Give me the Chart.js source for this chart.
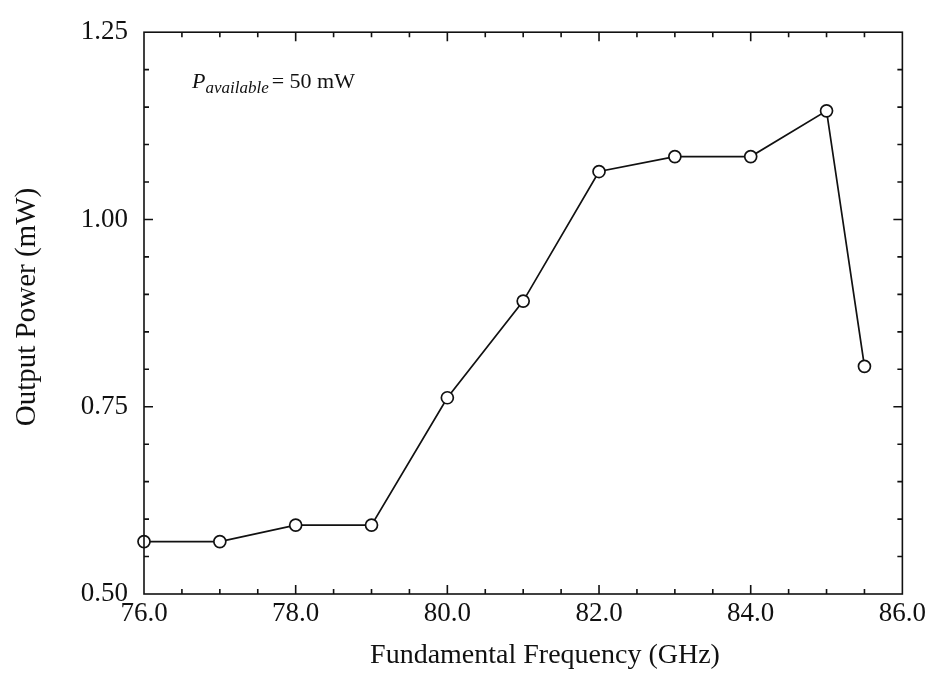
<!DOCTYPE html>
<html>
<head>
    <title>Output Power vs Fundamental Frequency</title>
    <style>
        body {
            margin: 0;
            background-color: #fff;
        }
    </style>
    <script src="https://cdn.jsdelivr.net/npm/chart.js"></script>
</head>
<body>
    <canvas id="powerChart" width="930" height="679"></canvas>

    <script>
        // data
        var frequency = [76, 77, 78, 79, 80, 81, 82, 83, 84, 85, 85.5];
        var outputPower = [0.570, 0.570, 0.592, 0.592, 0.762, 0.891, 1.064, 1.084, 1.084, 1.145, 0.804];

        var xTickValues = [76, 78, 80, 82, 84, 86];
        var xTickLabels = ['76.0', '78.0', '80.0', '82.0', '84.0', '86.0'];
        var yTickValues = [0.5, 0.75, 1.0, 1.25];
        var yTickLabels = ['0.50', '0.75', '1.00', '1.25'];

        var serif = '"Liberation Serif", "Times New Roman", serif';

        // frame, inward ticks on all four sides, axis titles and the note
        var framePlugin = {
            id: 'frame',
            afterDraw: function (chart) {
                var ctx = chart.ctx;
                var a = chart.chartArea;
                var xs = chart.scales.x;
                var ys = chart.scales.y;
                ctx.save();
                ctx.strokeStyle = '#111';
                ctx.lineWidth = 1.6;
                ctx.strokeRect(a.left, a.top, a.right - a.left, a.bottom - a.top);

                ctx.beginPath();
                for (var i = 1; i < 20; i++) {
                    var px = xs.getPixelForValue(76 + i * 0.5);
                    var len = (i % 4 == 0) ? 9 : 5;
                    ctx.moveTo(px, a.bottom);
                    ctx.lineTo(px, a.bottom - len);
                    ctx.moveTo(px, a.top);
                    ctx.lineTo(px, a.top + len);
                }
                for (var j = 1; j < 15; j++) {
                    var py = ys.getPixelForValue(0.5 + j * 0.05);
                    var l = (j % 5 == 0) ? 9 : 5;
                    ctx.moveTo(a.left, py);
                    ctx.lineTo(a.left + l, py);
                    ctx.moveTo(a.right, py);
                    ctx.lineTo(a.right - l, py);
                }
                ctx.stroke();

                ctx.fillStyle = '#111';
                ctx.font = '28px ' + serif;
                ctx.textAlign = 'center';
                ctx.textBaseline = 'alphabetic';
                ctx.fillText('Fundamental Frequency (GHz)', 545, 663);

                ctx.save();
                ctx.font = '29px ' + serif;
                ctx.translate(35, 307);
                ctx.rotate(-Math.PI / 2);
                ctx.fillText('Output Power (mW)', 0, 0);
                ctx.restore();

                // P_available = 50 mW
                ctx.textAlign = 'left';
                var x0 = 192, base = 88;
                ctx.font = 'italic 22px ' + serif;
                ctx.fillText('P', x0, base);
                x0 += ctx.measureText('P').width;
                ctx.font = 'italic 17px ' + serif;
                ctx.fillText('available', x0, base + 5);
                x0 += ctx.measureText('available').width + 3;
                ctx.font = '22px ' + serif;
                ctx.fillText('= 50 mW', x0, base);
                ctx.restore();
            }
        };

        var powerChart = new Chart(
            document.getElementById('powerChart'),
            {
                type: 'scatter',
                data: {
                    datasets: [
                        {
                            label: 'Output Power',
                            data: frequency.map(function (f, i) { return { x: f, y: outputPower[i] }; }),
                            showLine: true,
                            borderColor: '#111',
                            borderWidth: 1.7,
                            pointRadius: 6,
                            pointBorderWidth: 1.7,
                            pointBackgroundColor: '#fff',
                            pointBorderColor: '#111',
                            tension: 0,
                            clip: false
                        }
                    ]
                },
                options: {
                    responsive: false,
                    animation: false,
                    devicePixelRatio: 1,
                    layout: {
                        padding: { left: 0, top: 24, right: 26, bottom: 0 }
                    },
                    plugins: {
                        legend: { display: false },
                        tooltip: { enabled: false }
                    },
                    scales: {
                        x: {
                            type: 'linear',
                            min: 76,
                            max: 86,
                            afterFit: function (scale) { scale.height = 85; },
                            afterBuildTicks: function (scale) {
                                scale.ticks = xTickValues.map(function (v) { return { value: v }; });
                            },
                            grid: { display: false, drawTicks: false },
                            border: { display: false },
                            ticks: {
                                padding: 4,
                                color: '#111',
                                font: { family: serif, size: 27 },
                                maxRotation: 0,
                                callback: function (value) {
                                    var k = xTickValues.indexOf(value);
                                    return k >= 0 ? xTickLabels[k] : '';
                                }
                            }
                        },
                        y: {
                            type: 'linear',
                            min: 0.5,
                            max: 1.25,
                            afterFit: function (scale) { scale.width = 144; },
                            afterBuildTicks: function (scale) {
                                scale.ticks = yTickValues.map(function (v) { return { value: v }; });
                            },
                            grid: { display: false, drawTicks: false },
                            border: { display: false },
                            ticks: {
                                padding: 16,
                                color: '#111',
                                font: { family: serif, size: 27 },
                                callback: function (value) {
                                    var k = yTickValues.indexOf(value);
                                    return k >= 0 ? yTickLabels[k] : '';
                                }
                            }
                        }
                    }
                },
                plugins: [framePlugin]
            }
        );
    </script>
</body>
</html>
